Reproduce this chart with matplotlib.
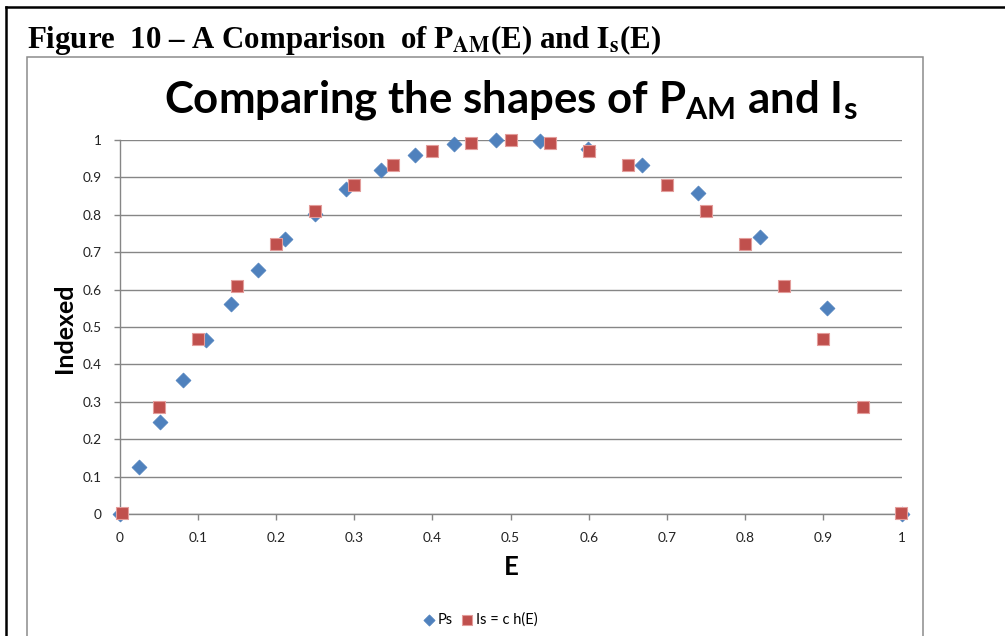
import matplotlib
matplotlib.use('Agg')
import matplotlib.pyplot as plt
from matplotlib.lines import Line2D
from matplotlib.patches import Rectangle

plt.rcParams['font.family'] = ['Lato', 'DejaVu Sans']
plt.rcParams['mathtext.fontset'] = 'custom'
plt.rcParams['mathtext.rm'] = 'Lato'
plt.rcParams['mathtext.bf'] = 'Lato:bold'

# Ps (blue diamonds)
ps_e = [0.0, 0.025, 0.052, 0.081, 0.111, 0.142, 0.177, 0.212, 0.25, 0.29,
        0.334, 0.378, 0.428, 0.481, 0.538, 0.599, 0.668, 0.739, 0.819, 0.905, 1.0]
ps_val = [0.0, 0.127, 0.246, 0.359, 0.466, 0.562, 0.653, 0.735, 0.803, 0.869,
          0.919, 0.961, 0.988, 1.0, 0.997, 0.976, 0.932, 0.857, 0.741, 0.552, 0.0]

# Is = c h(E) (red squares)
is_e = [0.003, 0.05, 0.1, 0.15, 0.2, 0.25, 0.3, 0.35, 0.4, 0.45, 0.5,
        0.55, 0.6, 0.65, 0.7, 0.75, 0.8, 0.85, 0.9, 0.95, 0.999]
is_val = [0.003, 0.286, 0.469, 0.61, 0.722, 0.811, 0.881, 0.934, 0.971, 0.993, 1.0,
          0.993, 0.971, 0.934, 0.881, 0.811, 0.722, 0.61, 0.469, 0.286, 0.003]

ticks = [0, 0.1, 0.2, 0.3, 0.4, 0.5, 0.6, 0.7, 0.8, 0.9, 1]
tick_labels = ['0', '0.1', '0.2', '0.3', '0.4', '0.5', '0.6', '0.7', '0.8', '0.9', '1']

W, H = 1005, 636
fig = plt.figure(figsize=(W / 100, H / 100), dpi=100)

def fx(px):
    return px / W

def fy(py):
    return 1 - py / H

# outer page box (black)
fig.add_artist(Line2D([fx(6), 1.0], [fy(7), fy(7)], color='black', lw=1.8))
fig.add_artist(Line2D([fx(6), fx(6)], [fy(7), 0], color='black', lw=1.8))

# chart area frame (gray)
fig.add_artist(Rectangle((fx(27), -0.02), fx(923) - fx(27), fy(57) + 0.02,
                         fill=False, edgecolor='#8c8c8c', lw=1.1))

fig.text(fx(27), fy(48), r'Figure  10 – A Comparison  of $\mathbf{P_{AM}}$(E) and $\mathbf{I_s}$(E)',
         fontsize=22.2, fontweight='bold', family=['Liberation Serif'],
         math_fontfamily='stix', va='baseline', ha='left')

ax = fig.add_axes([fx(119.5), fy(514), fx(901.7) - fx(119.5), fy(140) - fy(514)])

grid_col = '#868686'
ax.scatter(ps_e, ps_val, marker='D', s=58, color='#4F81BD', edgecolors='#4F81BD',
           linewidths=0.5, zorder=3, clip_on=False, label='Ps')
ax.scatter(is_e, is_val, marker='s', s=80, color='#C0504D', edgecolors='#E39D9B',
           linewidths=0.8, zorder=4, clip_on=False, label='Is = c h(E)')

ax.set_xlim(0, 1)
ax.set_ylim(0, 1)
ax.set_xticks(ticks)
ax.set_xticklabels(tick_labels)
ax.set_yticks(ticks)
ax.set_yticklabels(tick_labels)
ax.yaxis.grid(True, color=grid_col, lw=1.0)
ax.set_axisbelow(True)
for s in ['top', 'right']:
    ax.spines[s].set_visible(False)
for s in ['left', 'bottom']:
    ax.spines[s].set_color(grid_col)
    ax.spines[s].set_linewidth(1.0)
ax.tick_params(axis='both', colors=grid_col, labelcolor='#222222', labelsize=9.8,
               length=4, width=1.0, direction='out')
ax.tick_params(axis='x', pad=9)
ax.tick_params(axis='y', pad=9)

ax.set_title(r'Comparing the shapes of $\mathbf{P_{AM}}$ and $\mathbf{I_s}$',
             fontsize=31.5, fontweight='bold', pad=20)
fig.text(fx(511), fy(567), 'E', fontsize=18.5, fontweight='bold', ha='center', va='center')
fig.text(fx(64), fy(328), 'Indexed', fontsize=18, fontweight='bold', ha='center',
         va='center', rotation=90)

fig.legend(loc='center', bbox_to_anchor=(fx(480), fy(620)), ncol=2, frameon=False,
           fontsize=10.5, handlelength=0.8, handletextpad=0.2, columnspacing=0.6,
           scatterpoints=1, markerscale=0.75)

fig.savefig('out.png', dpi=100)
